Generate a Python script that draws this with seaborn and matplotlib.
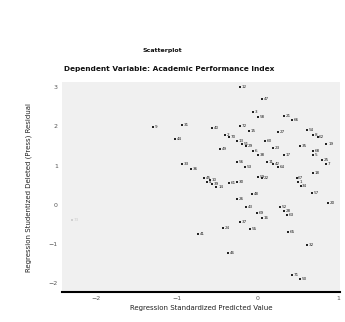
#%% imports
import matplotlib
matplotlib.use("Agg")
import matplotlib.pyplot as plt
import seaborn as sns
import pandas as pd

#%% data
pred = [-0.22, 0.05, -0.06, 0.00, 0.33, 0.43, -1.29, -0.94, -0.56, -0.22, -0.11, 0.25,
        0.61, 0.68, 0.74, 0.85, 0.52, -1.02, -0.41, -0.35, -0.26, -0.20, -0.14, -0.06,
        0.00, 0.09, 0.19, -0.47, 0.33, 0.68, 0.68, -0.94, -0.26, 0.11, 0.19, 0.25,
        0.80, 0.85, -0.82, -0.16, 0.68, -0.66, -0.59, -0.26, 0.00, 0.05, 0.48,
        -0.63, -0.56, -0.51, -0.35, -0.26, -0.07, 0.50, 0.53, 0.67, 0.87, -0.14,
        -0.01, 0.05, 0.27, 0.33, 0.36, -0.22, -0.43, -0.10, -0.74, 0.37, 0.61,
        -0.37, 0.43, 0.52]
resid = [3.00, 2.69, 2.36, 2.23, 2.26, 2.15, 1.99, 2.03, 1.95, 2.00, 1.88, 1.85,
         1.92, 1.79, 1.72, 1.56, 1.49, 1.69, 1.79, 1.72, 1.62, 1.54, 1.49, 1.36,
         1.28, 1.62, 1.46, 1.41, 1.28, 1.36, 1.26, 1.05, 1.10, 1.10, 1.03, 0.97,
         1.15, 1.05, 0.92, 0.95, 0.82, 0.69, 0.62, 0.59, 0.72, 0.67, 0.67,
         0.59, 0.54, 0.44, 0.56, 0.15, 0.28, 0.57, 0.47, 0.31, 0.05, -0.05,
         -0.21, -0.33, -0.06, -0.17, -0.26, -0.44, -0.59, -0.62, -0.74, -0.69,
         -1.03, -1.23, -1.79, -1.90]
labels = ["12", "47", "3", "58", "21", "66", "9", "31", "40", "72", "15", "27",
          "54", "8", "62", "19", "35", "44", "2", "70", "13", "51", "29", "6",
          "38", "60", "23", "49", "17", "68", "5", "33", "56", "11", "42", "64",
          "25", "7", "36", "53", "18", "45", "10", "30", "59", "22", "67",
          "4", "39", "14", "61", "26", "48", "1", "34", "57", "20", "43",
          "69", "16", "52", "28", "63", "37", "24", "55", "41", "65", "32",
          "46", "71", "50"]

# faint outlier on the far left
out_pred = [-2.30]
out_resid = [-0.38]
out_label = ["73"]

title = "Scatterplot"
subtitle = "Dependent Variable: Academic Performance Index"
xlabel = "Regression Standardized Predicted Value"
ylabel = "Regression Studentized Deleted (Press) Residual"
xticks = [-2, -1, 0, 1]
yticks = [-2, -1, 0, 1, 2, 3]

df = pd.DataFrame({"pred": pred, "resid": resid, "label": labels})
df_out = pd.DataFrame({"pred": out_pred, "resid": out_resid, "label": out_label})

#%% plot
sns.set_theme(style="white")
fig = plt.figure(figsize=(3.45, 3.22), dpi=100)
fig.patch.set_facecolor("white")
ax = fig.add_axes([0.180, 0.093, 0.806, 0.652])
ax.set_facecolor("#f0f0f0")

sns.scatterplot(data=df, x="pred", y="resid", ax=ax, marker="s", s=3,
                color="#222222", edgecolor=None, linewidth=0)
sns.scatterplot(data=df_out, x="pred", y="resid", ax=ax, marker="s", s=3,
                color="#d0d0d0", edgecolor=None, linewidth=0)
for d, col in [(df, "#222222"), (df_out, "#cccccc")]:
    for _, r in d.iterrows():
        ax.annotate(r["label"], (r["pred"], r["resid"]), xytext=(1.2, 0),
                    textcoords="offset points", fontsize=3, color=col,
                    va="center")

ax.set_xlim(-2.42, 1.02)
ax.set_ylim(-2.23, 3.13)
ax.set_xticks(xticks)
ax.set_yticks(yticks)
ax.tick_params(axis="both", labelsize=4.5, length=2, width=0.6, color="#333333",
               labelcolor="#555555", pad=1)
for side in ["top", "right", "left"]:
    ax.spines[side].set_visible(False)
ax.spines["bottom"].set_color("black")
ax.spines["bottom"].set_linewidth(1.5)

ax.set_xlabel(xlabel, fontsize=5, color="#222222", labelpad=3)
ax.set_ylabel(ylabel, fontsize=5, color="#222222", labelpad=12)
fig.text(0.47, 0.84, title, ha="center", fontsize=4.5, color="#111111", weight="bold")
fig.text(0.49, 0.78, subtitle, ha="center", fontsize=5.3, color="#111111", weight="bold")

fig.savefig("out.png", dpi=100)
